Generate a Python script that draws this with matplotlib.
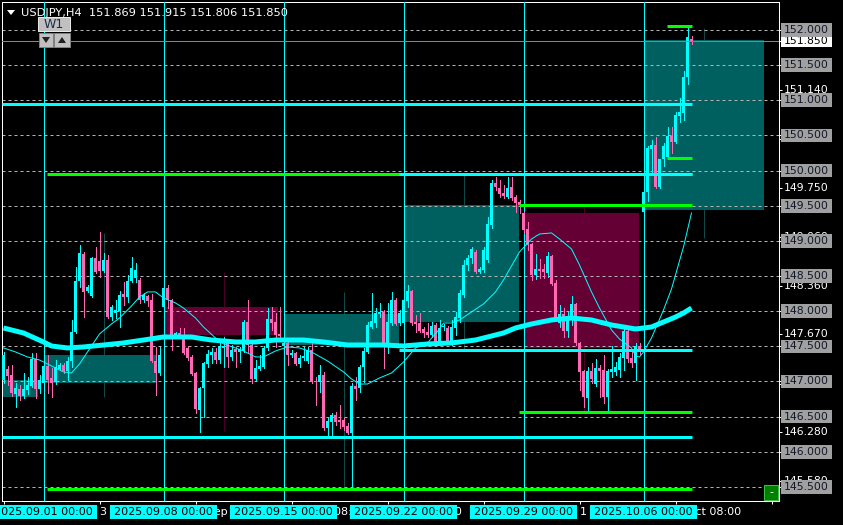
import numpy as np
import matplotlib
matplotlib.use("Agg")
import matplotlib.pyplot as plt
from matplotlib.patches import Rectangle, Polygon
import matplotlib.transforms as mtransforms

plt.rcParams['font.family'] = ['DejaVu Sans']

# ---------------- data (USDJPY H4) ----------------
opens = [
    147.021,147.178,147.093,146.822,146.893,146.794,146.879,146.936,147.320,146.893,
    146.978,147.221,147.050,146.993,147.178,147.235,147.150,147.292,147.704,148.430,
    148.814,148.288,148.216,148.757,148.714,148.572,148.729,147.917,147.974,148.003,
    148.245,148.202,148.430,148.473,148.444,148.159,148.216,148.159,147.292,147.121,
    148.059,148.330,148.159,147.662,147.690,147.662,147.477,147.349,147.121,146.595,
    146.907,147.249,147.377,147.420,147.306,147.477,147.548,147.349,147.462,147.420,
    147.434,147.846,147.519,147.036,147.178,147.207,147.477,147.889,147.846,147.676,
    147.505,147.548,147.377,147.405,147.249,147.334,147.292,147.448,147.007,146.993,
    147.093,146.339,146.424,146.523,146.452,146.452,146.367,146.267,146.936,146.907,
    147.207,147.420,147.775,147.832,147.960,147.989,147.548,147.832,148.159,147.832,
    147.832,148.145,148.288,147.846,147.832,147.747,147.704,147.662,147.804,147.548,
    147.775,147.761,147.548,147.761,147.903,148.231,148.657,148.757,148.843,148.558,
    148.586,148.729,149.227,149.824,149.753,149.681,149.625,149.767,149.625,149.554,
    149.397,149.170,148.956,148.515,148.600,148.600,148.543,148.785,148.402,147.832,
    147.960,147.719,147.917,148.103,147.548,147.150,146.766,147.150,146.964,147.192,
    147.164,146.779,147.136,147.136,147.164,147.334,147.719,147.334,147.263,147.505,
    149.412,149.696,150.308,150.365,149.767,150.165,150.194,150.492,150.407,150.777,
    150.820,151.331,151.869]
highs = [
    147.420,147.221,147.235,146.978,146.950,147.121,147.064,147.405,147.405,147.093,
    147.377,147.377,147.192,147.306,147.263,147.263,147.349,147.875,148.629,148.942,
    148.843,148.373,148.771,148.914,149.127,148.828,148.800,148.088,148.159,148.288,
    148.416,148.515,148.771,148.686,148.473,148.259,148.231,148.245,147.491,147.491,
    148.402,148.373,148.174,147.704,147.761,147.761,147.505,147.377,147.136,146.921,
    147.277,147.448,147.477,147.477,147.562,147.633,147.590,147.519,147.491,147.491,
    147.875,148.159,147.548,147.306,147.377,147.505,148.045,148.059,147.974,148.059,
    147.576,147.562,147.448,147.420,147.377,147.491,147.491,147.548,147.064,147.235,
    147.136,146.495,146.552,146.566,146.666,146.481,146.410,146.978,147.064,147.235,
    147.477,147.846,148.259,148.045,148.117,148.017,148.117,148.274,148.188,148.017,
    148.188,148.373,148.302,147.946,147.974,147.775,147.832,147.846,147.832,147.875,
    147.818,147.790,147.875,147.989,148.302,148.729,148.800,148.914,148.871,148.629,
    148.914,149.340,149.867,149.909,149.867,149.795,149.909,149.909,149.653,149.582,
    149.412,149.270,148.970,148.814,148.743,148.671,148.843,148.800,148.444,148.088,
    148.045,147.989,148.216,148.117,147.562,147.164,147.207,147.263,147.320,147.235,
    147.377,147.178,147.505,147.277,147.405,147.747,147.747,147.448,147.548,147.548,
    149.724,150.350,150.436,150.478,150.165,150.393,150.620,150.620,150.834,151.033,
    151.417,152.043,151.915]
lows = [
    146.978,146.950,146.794,146.637,146.737,146.766,146.822,146.921,146.766,146.836,
    146.950,146.836,146.779,146.964,147.164,147.121,147.021,147.207,147.690,148.345,
    147.917,148.274,148.202,148.543,148.486,148.558,147.903,147.875,147.903,147.775,
    148.088,148.131,148.416,148.416,148.117,148.131,148.074,147.277,146.808,147.093,
    148.045,148.045,147.448,147.633,147.619,147.391,147.306,147.093,146.552,146.282,
    146.495,147.207,147.263,147.263,147.263,147.207,147.207,147.306,147.207,147.277,
    147.420,147.420,146.978,147.021,147.164,147.192,147.448,147.733,147.491,147.619,
    147.491,147.235,147.349,147.235,147.207,147.306,147.263,146.978,146.666,146.851,
    146.310,146.210,146.225,146.381,146.339,146.310,146.253,145.485,146.737,146.851,
    146.993,147.405,147.761,147.775,147.917,147.192,147.405,147.804,147.804,147.804,
    147.775,148.059,147.804,147.704,147.704,147.633,147.633,147.633,147.519,147.519,
    147.733,147.534,147.519,147.662,147.846,148.202,148.586,148.686,148.543,148.543,
    148.558,148.700,149.184,149.724,149.625,149.611,149.611,149.582,149.412,149.397,
    149.127,148.871,148.444,148.458,148.473,148.473,148.486,148.373,147.875,147.775,
    147.633,147.633,147.804,147.519,146.879,146.637,146.595,146.978,146.936,146.779,
    146.694,146.580,147.064,147.093,147.064,147.164,147.277,147.207,147.021,147.391,
    149.397,149.568,149.966,149.753,149.753,150.066,150.180,150.251,150.393,150.692,
    150.720,151.232,151.806]
closes = [
    147.377,147.079,146.836,146.907,146.794,146.893,146.950,147.320,146.893,147.021,
    147.221,147.021,146.978,147.207,147.235,147.150,147.292,147.704,148.430,148.828,
    148.274,148.345,148.757,148.558,148.572,148.729,147.917,148.059,148.017,148.231,
    148.202,148.430,148.615,148.586,148.159,148.231,148.145,147.292,147.121,147.377,
    148.330,148.159,147.662,147.690,147.662,147.405,147.334,147.107,146.609,146.907,
    147.263,147.391,147.420,147.306,147.505,147.505,147.349,147.448,147.420,147.462,
    147.846,147.519,147.036,147.192,147.221,147.477,147.889,147.832,147.662,147.647,
    147.548,147.377,147.405,147.249,147.334,147.363,147.448,146.993,146.993,147.093,
    146.339,146.438,146.523,146.424,146.424,146.353,146.267,146.936,146.893,147.207,
    147.434,147.804,147.861,147.974,147.989,147.548,147.846,148.159,147.818,147.974,
    148.159,148.288,147.832,147.818,147.719,147.690,147.662,147.790,147.548,147.761,
    147.790,147.548,147.775,147.917,148.259,148.657,148.757,148.885,148.558,148.600,
    148.871,149.241,149.824,149.767,149.667,149.639,149.753,149.611,149.540,149.511,
    149.155,148.942,148.515,148.600,148.572,148.558,148.785,148.387,147.903,147.960,
    147.719,147.917,148.103,147.548,147.136,146.779,147.150,147.036,147.192,147.150,
    146.779,147.150,147.178,147.207,147.349,147.719,147.320,147.263,147.505,147.420,
    149.696,150.322,150.365,149.767,150.165,150.350,150.492,150.407,150.791,150.834,
    151.331,151.901,151.850]

# slow (thick) moving average, read at bar indices
slow_idx = [0, 5, 10, 12, 16, 20, 25, 30, 35, 40, 47, 52, 58, 63, 68, 75, 80, 86, 95, 100,
            106, 112, 118, 122, 125, 128, 132, 137, 142, 147, 152, 158, 162, 165, 168, 170, 172]
slow_val = [147.761, 147.690, 147.562, 147.505, 147.477, 147.491, 147.519, 147.548, 147.590, 147.633,
            147.633, 147.590, 147.562, 147.562, 147.590, 147.590, 147.562, 147.519, 147.519, 147.505,
            147.533, 147.548, 147.590, 147.647, 147.690, 147.761, 147.818, 147.875, 147.903, 147.875,
            147.804, 147.747, 147.775, 147.846, 147.917, 147.974, 148.045]
# fast (thin) moving average
fast_idx = [0,3,6,9,12,15,17,19,22,24,27,29,32,34,36,38,40,43,45,48,50,53,55,58,60,63,65,68,71,74,
            77,81,85,87,89,91,94,97,100,103,106,109,110,112,114,117,120,123,125,127,129,132,134,137,
            139,142,144,147,149,152,154,157,158,159,160,162,165,167,170,172]
fast_val = [147.477,147.420,147.349,147.306,147.221,147.136,147.121,147.249,147.505,147.676,
            147.818,147.903,148.074,148.202,148.274,148.274,148.188,148.117,148.045,147.903,
            147.775,147.619,147.534,147.477,147.434,147.349,147.349,147.434,147.491,147.477,
            147.420,147.292,147.136,147.036,146.964,146.964,147.050,147.121,147.277,147.477,
            147.548,147.747,147.832,147.832,147.875,147.989,148.103,148.274,148.444,148.643,
            148.843,149.027,149.098,149.113,149.027,148.885,148.657,148.274,148.045,147.733,
            147.604,147.477,147.363,147.349,147.420,147.619,148.017,148.316,148.914,149.397]

# W1 (weekly) candles overlay
wk_start = [-20, 10, 40, 70, 100, 130, 160]
wk_end = [8.6, 38.4, 68.7, 98.9, 128.9, 158.9, 190.0]
wk_open = [146.779, 146.978, 148.059, 147.519, 147.846, 149.397, 149.440]
wk_close = [147.021, 147.377, 147.662, 147.960, 149.511, 147.477, 151.858]
wk_high = [147.021, 149.113, 148.558, 148.274, 149.938, 149.483, 152.030]
wk_low = [146.779, 146.779, 146.296, 145.485, 147.462, 146.580, 149.040]

# horizontal level lines
lvl_price = [150.94, 149.95, 149.95, 149.51, 150.18, 152.05, 146.57, 145.47, 146.21, 147.45]
lvl_from = [-0.4, 10.9, 98.9, 128.9, 165.9, 165.9, 128.9, 10.9, -0.4, 98.9]
lvl_to = [172.2] * 10
lvl_kind = ['c', 'g', 'c', 'g', 'g', 'g', 'g', 'g', 'c', 'c']

grid_levels = [145.5, 146.0, 146.5, 147.0, 147.5, 148.0, 148.5, 149.0, 149.5, 150.0, 150.5, 151.0, 151.5, 152.0]
mark_levels = [151.140, 150.450, 149.750, 149.060, 148.360, 147.670, 146.970, 146.280, 145.580]
bid_price = 151.850

sep_bars = [10, 40, 70, 100, 130, 160]
sep_labels = ["2025.09.01 00:00", "2025.09.08 00:00", "2025.09.15 00:00",
              "2025.09.22 00:00", "2025.09.29 00:00", "2025.10.06 00:00"]
tick_bars = [0, 24, 48, 72, 96, 120, 144, 168]
tick_labels = ["28 Aug 08:00", "3 Sep 08:00", "9 Sep 08:00", "15 Sep 08:00",
               "19 Sep 08:00", "25 Sep 08:00", "1 Oct 08:00", "7 Oct 08:00"]
title = "USDJPY,H4  151.869 151.915 151.806 151.850"

# ---------------- styling ----------------
CYAN = '#00ffff'
PINK = '#ff69b4'
GREEN = '#00ff00'
TEAL = '#005f5f'
MAROON = '#640033'
PX = 0.72  # one pixel in points at dpi 100

W, H = 843, 525
fig = plt.figure(figsize=(W / 100, H / 100), dpi=100, facecolor='black')
L_PX, R_PX, T_PX, B_PX = 2, 779, 2, 501
ax = fig.add_axes([L_PX / W, 1 - B_PX / H, (R_PX - L_PX) / W, (B_PX - T_PX) / H])
ax.set_facecolor('black')
x0 = -0.375
ax.set_xlim(x0, x0 + (R_PX - L_PX) / 4.0)
ymin, ymax = 145.300, 152.398
ax.set_ylim(ymin, ymax)
ppp = (B_PX - T_PX) / (ymax - ymin)  # pixels per price unit

# weekly boxes + wicks
for s, e, o, c, hi, lo in zip(wk_start, wk_end, wk_open, wk_close, wk_high, wk_low):
    bull = c >= o
    ax.add_patch(Rectangle((s, min(o, c)), e - s, abs(c - o),
                           facecolor=TEAL if bull else MAROON, edgecolor='none', zorder=1))
    ax.vlines(s + 15, lo, hi, colors='#0e4a4a' if bull else '#4a0026', lw=PX, zorder=0.9)

# grid
for g in grid_levels:
    ax.axhline(g, color='#b4b4b4', lw=PX, ls=(0, (3, 3)), zorder=2)

# period separators
for b in sep_bars:
    ax.axvline(b, color=CYAN, lw=PX, zorder=3)

# candles
o = np.array(opens); h = np.array(highs); l = np.array(lows); c = np.array(closes)
xs = np.arange(len(o))
cols = np.where(c >= o, CYAN, PINK)
ax.vlines(xs, l, h, colors=cols, lw=PX, zorder=4, antialiased=False)
body_h = np.maximum(np.abs(c - o), 0.9 / ppp)
ax.bar(xs, body_h, bottom=np.minimum(o, c), width=0.75, color=cols, lw=0, zorder=5,
       antialiased=False)

# bid line
ax.axhline(bid_price, color='#778899', lw=PX, zorder=6)

# level lines
for p, f, t, k in zip(lvl_price, lvl_from, lvl_to, lvl_kind):
    ax.hlines(p, f, t, colors=CYAN if k == 'c' else GREEN, lw=3 * PX, zorder=7)

# moving averages
ax.plot(slow_idx, slow_val, color=CYAN, lw=5 * PX, zorder=8, solid_capstyle='butt')
ax.plot(fast_idx, fast_val, color=CYAN, lw=PX, zorder=8)

for sp in ax.spines.values():
    sp.set_color('white')
    sp.set_linewidth(PX)
ax.set_xticks(tick_bars + [192])
ax.set_xticklabels([])
ax.yaxis.tick_right()
ax.set_yticks(grid_levels + mark_levels + [bid_price])
ax.set_yticklabels([])
ax.tick_params(axis='both', colors='white', length=3 * PX, width=PX)

# ---------------- overlay in pixel coordinates ----------------
ov = fig.add_axes([0, 0, 1, 1], zorder=10)
ov.set_xlim(0, W)
ov.set_ylim(H, 0)
ov.axis('off')
ov.patch.set_alpha(0)

tr_r = mtransforms.blended_transform_factory(ov.transData, ax.transData)
tr_b = mtransforms.blended_transform_factory(ax.transData, ov.transData)
FS = 7.8
half = 6.8 / ppp

for p in mark_levels:
    ov.text(784, p, f"{p:.3f}", transform=tr_r, color='white', fontsize=FS,
            ha='left', va='center', zorder=1)
ov.add_patch(Rectangle((781, bid_price - half), 51, 2 * half, transform=tr_r,
                       facecolor='white', edgecolor='none', zorder=2))
ov.text(784, bid_price, f"{bid_price:.3f}", transform=tr_r, color='black', fontsize=FS,
        ha='left', va='center', zorder=2.1)
for p in grid_levels:
    ov.add_patch(Rectangle((781, p - half), 51, 2 * half, transform=tr_r,
                           facecolor='#a0a0a0', edgecolor='none', zorder=3))
    ov.text(784, p, f"{p:.3f}", transform=tr_r, color='#101828', fontsize=FS,
            ha='left', va='center', zorder=3.1)

# time axis
for b, t in zip(tick_bars, tick_labels):
    ov.text(b + 0.2, 512, t, transform=tr_b, color='white', fontsize=8,
            ha='left', va='center', zorder=1)
for b, t in zip(sep_bars, sep_labels):
    ov.add_patch(Rectangle((b - 13.4, 505), 26.8, 14, transform=tr_b,
                           facecolor=CYAN, edgecolor='none', zorder=2))
    ov.text(b, 512, t, transform=tr_b, color='black', fontsize=8,
            ha='center', va='center', zorder=3)

# title
ov.add_patch(Polygon([(7, 10), (15, 10), (11, 15)], closed=True, facecolor='white',
                     edgecolor='none', zorder=3))
ov.text(21, 12.5, title, color='white', fontsize=8.2, ha='left', va='center', zorder=3)

# W1 widget
ov.add_patch(Rectangle((38, 17), 32, 14, facecolor='#c0c0c0', edgecolor='#e8e8e8',
                       lw=PX, zorder=3))
ov.text(54, 24.5, "W1", color='#1c2c48', fontsize=9, ha='center', va='center', zorder=4)
ov.add_patch(Rectangle((39, 33), 14, 14, facecolor='#c0c0c0', edgecolor='#808080',
                       lw=PX, zorder=3))
ov.add_patch(Rectangle((54, 33), 16, 14, facecolor='#c0c0c0', edgecolor='#808080',
                       lw=PX, zorder=3))
ov.add_patch(Polygon([(42, 37), (50, 37), (46, 43)], closed=True, facecolor='#202020',
                     edgecolor='none', zorder=4))
ov.add_patch(Polygon([(58, 43), (66, 43), (62, 37)], closed=True, facecolor='#202020',
                     edgecolor='none', zorder=4))

# small green button
ov.add_patch(Rectangle((764, 485), 14, 15, facecolor='#008000', edgecolor='#40c040',
                       lw=PX, zorder=3))
ov.text(771, 492, "-", color='white', fontsize=8, ha='center', va='center', zorder=4)

fig.savefig("out.png", dpi=100, facecolor='black')
